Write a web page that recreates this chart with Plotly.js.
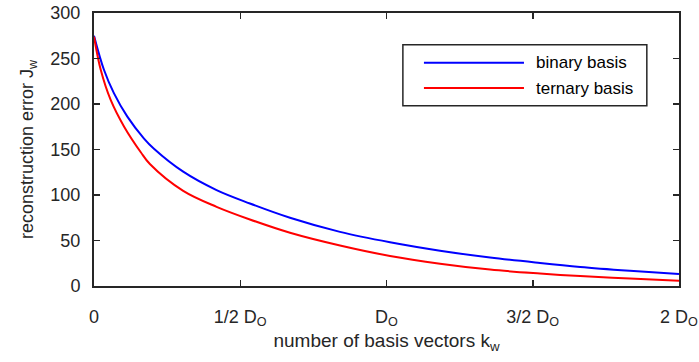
<!DOCTYPE html>
<html>
<head>
<meta charset="utf-8">
<script src="https://cdn.plot.ly/plotly-3.0.1.min.js"></script>
<style>html,body{margin:0;padding:0;background:#fff;}</style>
</head>
<body>
<div id="chart" style="width:699px;height:362px;"></div>
<script>
// x in units of D_O
const binaryK = [0, 0.034, 0.068, 0.114, 0.171, 0.205, 0.305, 0.419, 0.533, 0.670, 0.841, 1.012, 1.183, 1.354, 1.525, 1.662, 1.832, 2.0];
const binaryJ = [275, 237.6, 211.9, 186.1, 162, 150.8, 125.6, 105.4, 90.7, 75, 59.5, 48.1, 38.8, 31.3, 25.3, 21, 16.8, 13.2];
const ternaryK = [0, 0.023, 0.057, 0.103, 0.160, 0.191, 0.305, 0.419, 0.533, 0.670, 0.841, 1.012, 1.183, 1.354, 1.525, 1.662, 1.832, 2.0];
const ternaryJ = [274, 237.6, 204.5, 175.1, 147, 134, 104.5, 87, 73.1, 58.5, 44.5, 33, 24.5, 18, 13.7, 10.9, 8.2, 5.9];
const xTickVals = [0, 0.5, 1, 1.5, 2];
const xTickText = ['0', '1/2 D<sub>O</sub>', 'D<sub>O</sub>', '3/2 D<sub>O</sub>', '2 D<sub>O</sub>'];
const yTickVals = [0, 50, 100, 150, 200, 250, 300];
const seriesNames = ['binary basis', 'ternary basis'];
const seriesColors = ['#0000ff', '#ff0000'];

const axisColor = '#262626';
const fam = '"Liberation Sans", Arial, sans-serif';
const font = {family: fam, size: 18, color: axisColor};

const traces = [
  {x: binaryK, y: binaryJ, name: seriesNames[0], mode: 'lines', line: {color: seriesColors[0], width: 2, shape: 'spline', smoothing: 1}},
  {x: ternaryK, y: ternaryJ, name: seriesNames[1], mode: 'lines', line: {color: seriesColors[1], width: 2, shape: 'spline', smoothing: 1}}
];

const legendShapes = [
  {type: 'rect', xref: 'paper', yref: 'paper', x0: 0.528, x1: 0.945, y0: 0.660, y1: 0.884, line: {color: axisColor, width: 1.5}, fillcolor: '#ffffff', layer: 'above'},
  {type: 'line', xref: 'paper', yref: 'paper', x0: 0.564, x1: 0.735, y0: 0.818, y1: 0.818, line: {color: seriesColors[0], width: 2}, layer: 'above'},
  {type: 'line', xref: 'paper', yref: 'paper', x0: 0.564, x1: 0.735, y0: 0.725, y1: 0.725, line: {color: seriesColors[1], width: 2}, layer: 'above'}
];
const legendAnn = seriesNames.map((n, i) => ({
  xref: 'paper', yref: 'paper', x: 0.752, y: i === 0 ? 0.818 : 0.725,
  xanchor: 'left', yanchor: 'middle', text: n, showarrow: false,
  font: {family: fam, size: 17, color: '#000000'}
}));

const layout = {
  width: 699, height: 362,
  margin: {l: 94, r: 20, t: 13, b: 76},
  paper_bgcolor: '#ffffff', plot_bgcolor: '#ffffff',
  font: font,
  showlegend: false,
  xaxis: {
    range: [0, 2], tickvals: xTickVals, ticktext: xTickText,
    ticks: 'inside', ticklen: 6, tickwidth: 1.5, tickcolor: axisColor,
    showline: true, linecolor: axisColor, linewidth: 2, mirror: 'ticks',
    showgrid: false, zeroline: false, ticklabelstandoff: 13,
    tickfont: font,
    title: {text: 'number of basis vectors k<sub>w</sub>', font: {family: fam, size: 19, color: axisColor}, standoff: 5}
  },
  yaxis: {
    range: [0, 300], tickvals: yTickVals,
    ticks: 'inside', ticklen: 6, tickwidth: 1.5, tickcolor: axisColor,
    showline: true, linecolor: axisColor, linewidth: 2, mirror: 'ticks',
    showgrid: false, zeroline: false, ticklabelstandoff: 8,
    tickfont: font,
    title: {text: 'reconstruction error J<sub>w</sub>', font: font, standoff: 12}
  },
  shapes: legendShapes,
  annotations: legendAnn
};

Plotly.newPlot('chart', traces, layout, {displayModeBar: false, staticPlot: true});
</script>
</body>
</html>
